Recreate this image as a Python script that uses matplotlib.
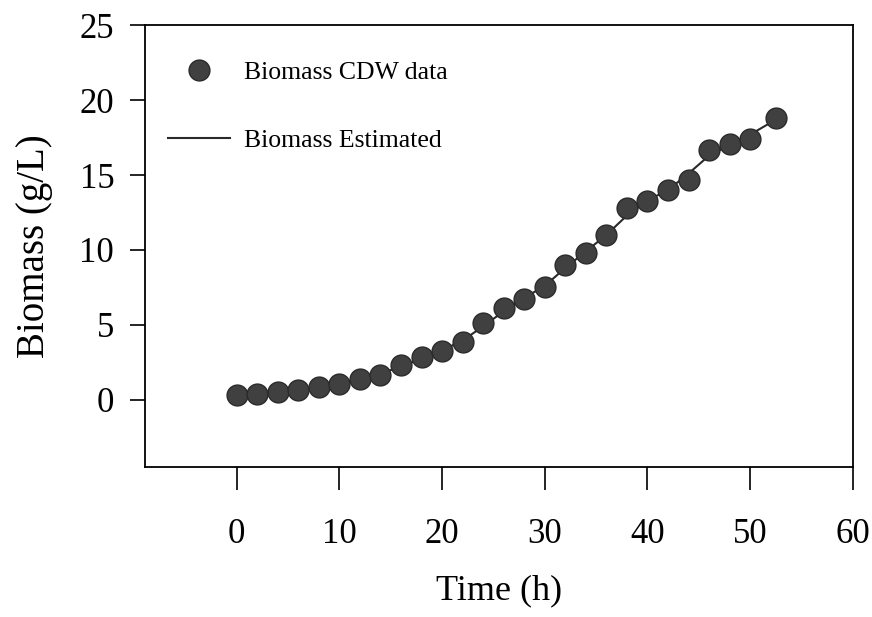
import matplotlib
matplotlib.use("Agg")
import matplotlib.pyplot as plt
from matplotlib.lines import Line2D

# time (h) and measured / estimated biomass (g/L)
time_h = [0, 2, 4, 6, 8, 10, 12, 14, 16, 18, 20, 22, 24, 26, 28, 30,
          32, 34, 36, 38, 40, 42, 44, 46, 48, 50, 52.5]
cdw = [0.34, 0.4, 0.5, 0.67, 0.83, 1.05, 1.39, 1.68, 2.3, 2.86, 3.24, 3.85,
       5.1, 6.1, 6.75, 7.5, 9.0, 9.8, 11.0, 12.8, 13.3, 14.0, 14.65,
       16.65, 17.05, 17.4, 18.8]
estimated = [0.3, 0.4, 0.5, 0.65, 0.85, 1.1, 1.4, 1.75, 2.2, 2.75, 3.3, 3.95,
             4.9, 5.9, 6.8, 7.6, 8.8, 9.9, 11.0, 12.3, 13.3, 14.0, 15.1,
             16.3, 17.0, 17.7, 18.7]

xticks = [0, 10, 20, 30, 40, 50, 60]
yticks = [0, 5, 10, 15, 20, 25]

plt.rcParams['font.family'] = ['Liberation Serif', 'DejaVu Serif']

fig = plt.figure(figsize=(8.72, 6.17), dpi=100)
ax = fig.add_axes([0.166, 0.243, 0.812, 0.716])

ax.plot(time_h, estimated, color='#2a2a2a', lw=1.5, zorder=2)
ax.plot(time_h, cdw, 'o', ms=15, color='#404040', mec='#2a2a2a', mew=1.0,
        zorder=3)

ax.set_xlim(-8.96, 60)
ax.set_ylim(-4.5, 25)
ax.set_xticks(xticks)
ax.set_yticks(yticks)
ax.tick_params(axis='x', direction='out', length=16.5, width=1.2, pad=20,
               labelsize=25)
ax.tick_params(axis='y', direction='out', length=11, width=1.2, pad=11,
               labelsize=25)
for s in ax.spines.values():
    s.set_linewidth(1.3)

ax.set_xlabel('Time (h)', fontsize=26, labelpad=17)
ax.set_ylabel('Biomass (g/L)', fontsize=28, labelpad=19)

handles = [
    Line2D([], [], ls='none', marker='o', ms=15, color='#404040',
           mec='#2a2a2a'),
    Line2D([], [], color='#2a2a2a', lw=1.5),
]
ax.legend(handles, ['Biomass CDW data', 'Biomass Estimated'],
          loc='upper left', bbox_to_anchor=(0.0, 0.972), frameon=False,
          fontsize=18.5, handlelength=2.4, handletextpad=0.58,
          labelspacing=1.75)

fig.savefig('out.png', dpi=100)
